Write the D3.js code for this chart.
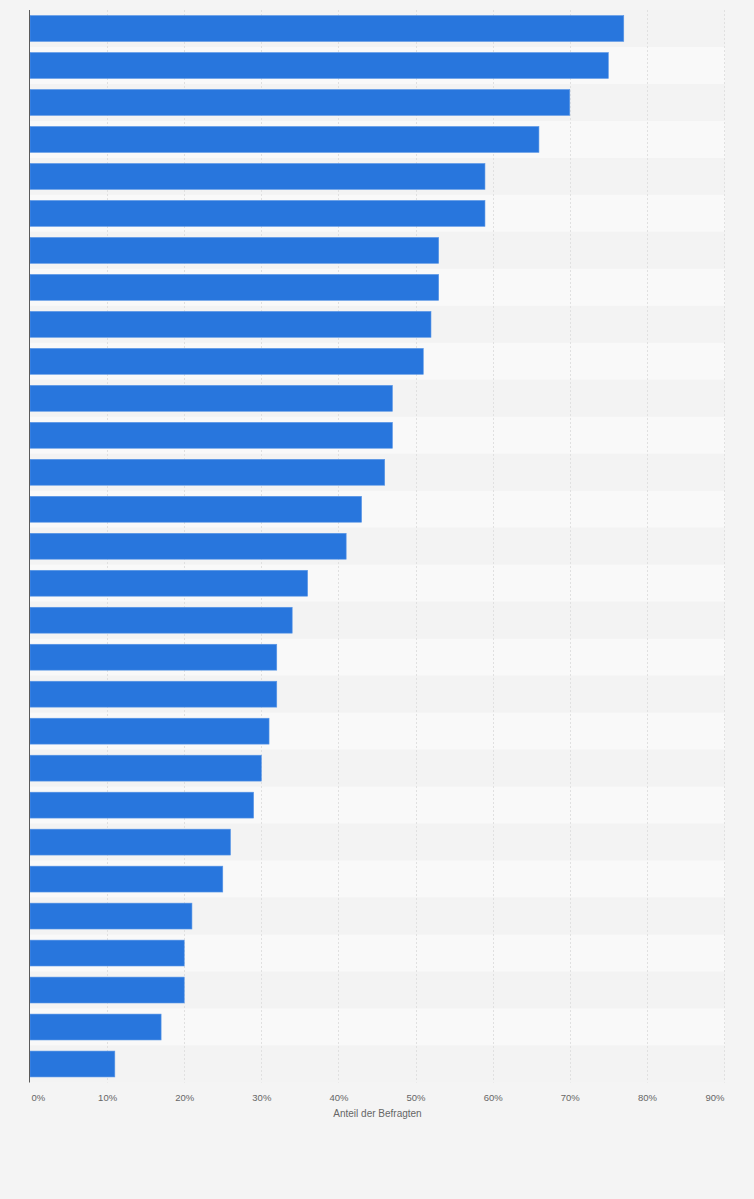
<!DOCTYPE html>
<html><head><meta charset="utf-8">
<script src="https://cdn.jsdelivr.net/npm/d3@7"></script>
<style>
html,body{margin:0;padding:0;background:#f4f4f4;}
svg{display:block;font-family:"Liberation Sans",Arial,Helvetica,sans-serif;}
</style></head>
<body>
<script>
const categories = d3.range(1, 30).map(i => "Kategorie " + i);
const values = [77,75,70,66,59,59,53,53,52,51,47,47,46,43,41,36,34,32,32,31,30,29,26,25,21,20,20,17,11];
const tickValues = [0,10,20,30,40,50,60,70,80,90];
const axisTitle = "Anteil der Befragten";

(function () {
const W = 754, H = 1199;
const pLeft = 30, pRight = 725, pTop = 10, pBottom = 1082.5;

const svg = d3.select("body").append("svg").attr("width", W).attr("height", H);
svg.append("rect").attr("width", W).attr("height", H).attr("fill", "#f4f4f4");

const x = d3.scaleLinear().domain([0, 90]).range([pLeft, pRight - 1]);
const yBand = d3.scaleBand().domain(categories).range([pTop, pBottom]).paddingInner(0).paddingOuter(0);
const yBar = d3.scaleBand().domain(categories).range([pTop, pBottom]).paddingInner(0.3).paddingOuter(0.15);

// row stripes
svg.append("g").selectAll("rect").data(categories).join("rect")
  .attr("x", pLeft).attr("width", pRight - pLeft)
  .attr("y", d => yBand(d)).attr("height", yBand.bandwidth())
  .attr("fill", (d, i) => i % 2 === 0 ? "#f3f3f3" : "#f9f9f9");

// gridlines
svg.append("g").selectAll("line").data(tickValues.filter(t => t > 0)).join("line")
  .attr("x1", d => Math.round(x(d)) + 0.5).attr("x2", d => Math.round(x(d)) + 0.5)
  .attr("y1", pTop).attr("y2", pBottom)
  .attr("stroke", "#e0e0e0").attr("stroke-width", 1).attr("stroke-dasharray", "2,2");

// bars
svg.append("g").selectAll("rect").data(values).join("rect")
  .attr("x", x(0))
  .attr("y", (d, i) => yBar(categories[i]))
  .attr("height", yBar.bandwidth())
  .attr("width", d => x(d) - x(0))
  .attr("fill", "#2876dd")
  .attr("stroke", "#5b97e6").attr("stroke-width", 0.6);

// axis line
svg.append("line").attr("x1", pLeft - 0.5).attr("x2", pLeft - 0.5).attr("y1", pTop).attr("y2", pBottom)
  .attr("stroke", "#5a5a5a").attr("stroke-width", 1);

// x axis labels
const xAxis = d3.axisBottom(x).tickValues(tickValues).tickFormat(d => d + "%").tickSize(0).tickPadding(0);
const gx = svg.append("g").attr("transform", `translate(0,${1094})`).call(xAxis);
gx.select(".domain").remove();
gx.selectAll("text").attr("fill", "#666").attr("font-size", 9.5)
  .attr("font-family", "'Liberation Sans',Arial,sans-serif")
  .attr("text-anchor", (d, i) => i === 0 ? "start" : (i === tickValues.length - 1 ? "end" : "middle"))
  .attr("dx", (d, i) => i === 0 ? 1 : 0);

svg.append("text").attr("x", (pLeft + pRight) / 2).attr("y", 1117)
  .attr("text-anchor", "middle").attr("fill", "#666").attr("font-size", 10)
  .text(axisTitle);
})();
</script>
</body></html>
